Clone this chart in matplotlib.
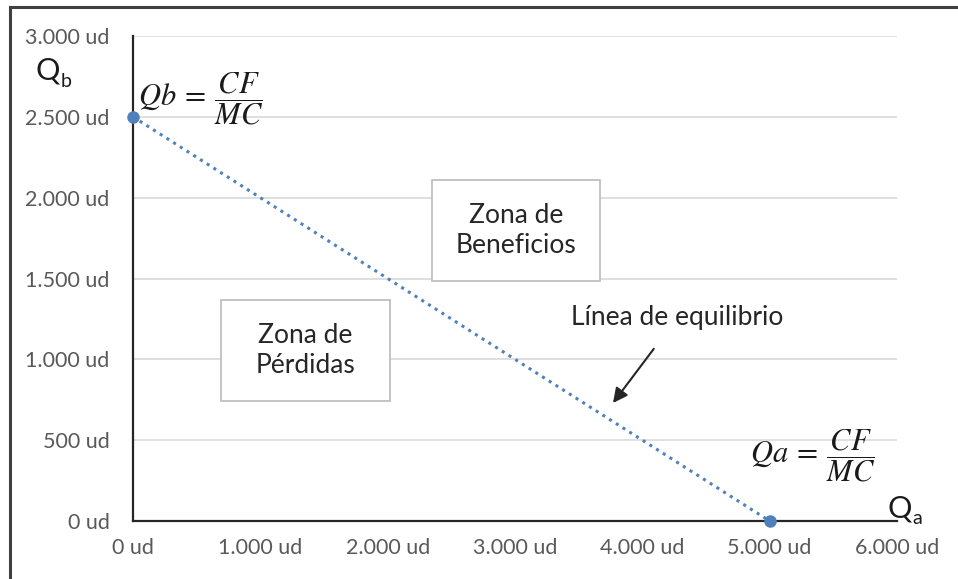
import matplotlib
matplotlib.use("Agg")
import matplotlib.pyplot as plt
from matplotlib.patches import Rectangle
from matplotlib.lines import Line2D

# Data
qa_values = [0, 5000]
qb_values = [2500, 0]
x_ticks = [0, 1000, 2000, 3000, 4000, 5000, 6000]
y_ticks = [0, 500, 1000, 1500, 2000, 2500, 3000]

def fmt(v):
    return f"{v:,}".replace(",", ".") + " ud"

x_labels = [fmt(v) for v in x_ticks]
y_labels = [fmt(v) for v in y_ticks]

plt.rcParams['font.family'] = ['Lato', 'DejaVu Sans']
plt.rcParams['mathtext.fontset'] = 'stix'

W, H = 958, 579
fig = plt.figure(figsize=(W / 100, H / 100), dpi=100)
ax = fig.add_axes([133 / W, 1 - 521 / H, (897 - 133) / W, (521 - 36) / H])

ax.set_xlim(0, 6000)
ax.set_ylim(0, 3000)
ax.set_xticks(x_ticks)
ax.set_xticklabels(x_labels)
ax.set_yticks(y_ticks)
ax.set_yticklabels(y_labels)
ax.tick_params(length=0, labelsize=15.5, labelcolor='#595959')
ax.tick_params(axis='x', pad=12)
ax.tick_params(axis='y', pad=17)
ax.grid(axis='y', color='#d9d9d9', lw=1.2)
ax.set_axisbelow(True)
for s in ['top', 'right']:
    ax.spines[s].set_visible(False)
for s in ['left', 'bottom']:
    ax.spines[s].set_color('#262626')
    ax.spines[s].set_linewidth(1.6)

color = '#4F81BD'
ax.plot(qa_values, qb_values, color=color, linestyle=(0, (1, 1.6)), lw=2.2,
        marker='o', markersize=8, clip_on=False, zorder=5)

# Boxes
tr = ax.transAxes
def px2ax(px, py):
    return ((px - 133) / 764, (521 - py) / 485)

def box(x0, y0, x1, y1, lines):
    a0 = px2ax(x0, y1)
    a1 = px2ax(x1, y0)
    ax.add_patch(Rectangle(a0, a1[0] - a0[0], a1[1] - a0[1], transform=tr,
                           facecolor='white', edgecolor='#bfbfbf', lw=1.3, zorder=6))
    cx = (a0[0] + a1[0]) / 2
    cy = (a0[1] + a1[1]) / 2
    ax.text(cx, cy, lines, transform=tr, ha='center', va='center', fontsize=19,
            color='#262626', linespacing=1.25, zorder=7)

box(432, 180, 600, 281, "Zona de\nBeneficios")
box(221, 300, 390, 401, "Zona de\nPérdidas")

# Arrow annotation
ax.annotate("Línea de equilibrio", xy=px2ax(613, 403), xycoords=tr,
            xytext=px2ax(677, 318), textcoords=tr, ha='center', va='center',
            fontsize=19, color='#262626',
            arrowprops=dict(arrowstyle='-|>', color='#262626', lw=1.5,
                            mutation_scale=22, shrinkA=14, shrinkB=0))

# Formulas
fig.text(138 / W, 1 - 99 / H, r"$Qb\:=\:\dfrac{CF}{MC}$", fontsize=22, ha='left', va='center',
         color='#1a1a1a')
fig.text(750 / W, 1 - 456 / H, r"$Qa\:=\:\dfrac{CF}{MC}$", fontsize=22, ha='left', va='center',
         color='#1a1a1a')

# Axis name labels
fig.text(48 / W, 1 - 71 / H, "Q", fontsize=22, ha='center', va='center', color='#1a1a1a')
fig.text(66 / W, 1 - 81 / H, "b", fontsize=14, ha='center', va='center', color='#1a1a1a')
fig.text(900 / W, 1 - 509 / H, "Q", fontsize=22, ha='center', va='center', color='#1a1a1a')
fig.text(917 / W, 1 - 519 / H, "a", fontsize=14, ha='center', va='center', color='#1a1a1a')

# Outer frame (left and top only)
fig.add_artist(Line2D([9.5 / W, 9.5 / W], [0, 1 - 6.5 / H], transform=fig.transFigure,
                      color='#404040', lw=2.2))
fig.add_artist(Line2D([9.5 / W, 1], [1 - 6.5 / H, 1 - 6.5 / H], transform=fig.transFigure,
                      color='#404040', lw=2.2))

fig.savefig("out.png", dpi=100)
